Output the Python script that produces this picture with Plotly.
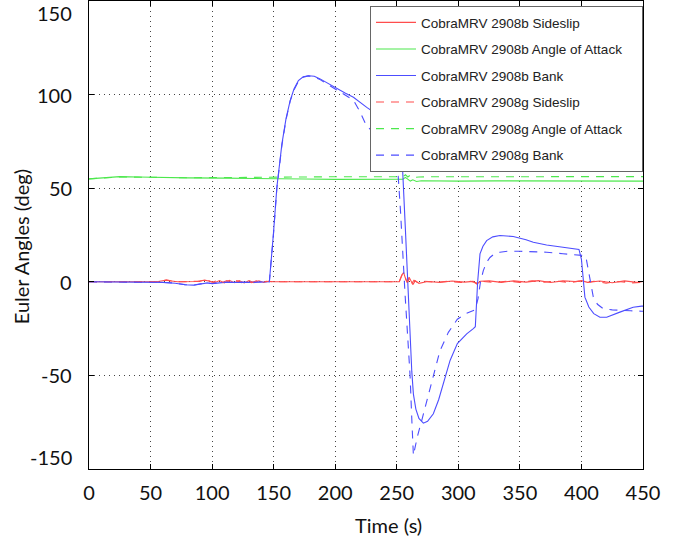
import plotly.graph_objects as go

# ---------------- data ----------------
b_side_t = [0, 55, 62, 66, 72, 88, 94, 98, 102, 106, 110, 114, 118, 122, 126, 130, 134, 138, 142, 146, 150,
            200, 252, 254, 255.5, 257, 258.5, 260, 261.5, 263, 265, 268, 275, 285, 295, 305, 312, 315, 318,
            325, 335, 345, 355, 365, 375, 385, 395, 400, 405, 415, 425, 435, 445, 450]
b_side_v = [0, 0, 0.8, 0.5, 0, 0.2, 0.9, 0.3, -0.5, 0.7, -0.6, 0.8, -0.5, 0.7, -0.6, 0.6, -0.5, 0.5, -0.4, 0.3, 0,
            0, 0, 3.5, 5, 2, -0.5, 2.5, 0.5, -1.5, 0.5, -0.8, 0.2, -0.3, 0.4, -0.2, 0.2, -1.2, 0.3,
            0.5, -0.3, 0.5, -0.2, 0.6, -0.4, 0.5, 0.2, 0.6, -0.3, 0.4, -0.5, 0.5, -0.3, 0.2]

g_side_t = [0, 55, 63, 68, 74, 90, 96, 100, 104, 108, 112, 116, 120, 124, 128, 132, 136, 140, 144, 148,
            200, 252, 254.5, 256, 257.5, 259, 260.5, 262, 264, 267, 272, 282, 292, 302, 310, 316, 320,
            330, 340, 350, 360, 370, 380, 390, 398, 403, 410, 420, 430, 440, 450]
g_side_v = [0, 0, 1.0, 0.3, 0, 0.3, 1.0, -0.2, 0.6, -0.5, 0.7, -0.4, 0.6, -0.5, 0.6, -0.4, 0.5, -0.3, 0.3, 0,
            0, 0, 4, 4.5, 1, 0, 2, -1, 0.8, -0.5, 0.3, -0.2, 0.3, -0.4, 0.3, -0.8, 0.2,
            -0.4, 0.4, -0.3, 0.5, -0.2, 0.4, -0.5, 0.3, -0.6, 0.3, -0.7, 0.2, -0.6, -0.3]

b_aoa_t = [0, 10, 25, 40, 60, 80, 110, 148, 175, 200, 230, 255, 257, 259, 261, 263, 266, 270, 280,
           300, 330, 360, 400, 430, 450]
b_aoa_v = [55.0, 55.6, 56.2, 56.0, 55.6, 55.5, 55.4, 55.3, 54.9, 54.7, 54.7, 54.8, 55.8, 55.0, 53.8,
           54.5, 53.6, 54.0, 53.9, 53.8, 53.9, 53.8, 53.8, 53.9, 53.8]

g_aoa_t = [0, 10, 25, 40, 60, 80, 110, 150, 200, 255, 257, 259, 261, 264, 268, 280, 320, 360, 400, 450]
g_aoa_v = [55.0, 55.5, 56.0, 55.9, 55.7, 55.6, 55.7, 56.0, 56.1, 56.1, 57.2, 56.0, 57.0, 55.8, 56.0,
           56.1, 56.2, 56.2, 56.1, 56.2]

b_bank_t = [0, 50, 60, 70, 78, 85, 92, 96, 100, 105, 110, 130, 146.5, 149.8, 152.6, 156.7, 160, 163.4,
            166.5, 170.1, 174, 178.2, 183, 187.7, 194, 201.3, 208, 214.8, 220, 225.6, 235, 245, 250,
            252, 253.5, 254.8, 257, 258, 259, 260.5, 262.2, 263.5, 265.5, 268, 271.6, 275, 279.7, 284,
            287.8, 293.3, 299.2, 306.8, 312.2, 313.8, 315.7, 317.6, 320, 323, 328, 333.8, 344.6, 355,
            360.9, 371.7, 385, 396, 398, 400, 402.8, 406, 410, 415, 420.5, 431.2, 442, 448.9, 450]
b_bank_v = [0, 0, -0.3, -0.8, -1.6, -1.8, -1.2, -0.6, -1.0, -0.7, -0.3, -0.3, 0, 25.6, 50.5, 73.7, 87,
            96.8, 103, 107.5, 109.5, 110.1, 109.8, 108.4, 106, 103, 100.8, 98.6, 96, 93.2, 89, 85, 82,
            76, 68, 59, 28, 13, 0, -20, -48, -60, -68, -73, -75.5, -74.5, -70.5, -63,
            -54.5, -42, -33, -27.8, -25, -24, 0, 14.9, 19, 22, 24, 24.7, 24.2, 22.5,
            21.1, 19.7, 18.5, 17.6, 17.3, 12, -8.2, -13.5, -17, -18.9, -18.9, -16.2, -13.6, -13, -13]

g_bank_t = [0, 50, 60, 70, 78, 85, 92, 96, 100, 105, 110, 130, 146.5, 149.8, 152.6, 156.7, 160, 163.4,
            166.5, 170.1, 174, 178.2, 183, 187.7, 194, 201.3, 208, 214.8, 220, 225.6, 235, 245, 250,
            253, 256.7, 258.5, 260.8, 262.3, 263.5, 265, 267, 270.3, 275, 279.7, 285, 291.9, 299.2, 306,
            313.6, 316, 318, 320.3, 323, 325.7, 329, 333.8, 340, 350, 360, 371.7, 385, 398.8, 402.8,
            404, 405.5, 407.5, 409.6, 413, 417.7, 425, 431.2, 440, 448.9, 450]
g_bank_v = [0, 0, -0.3, -0.7, -1.5, -1.7, -1.1, -0.5, -0.9, -0.6, -0.3, -0.3, 0, 25.0, 50, 73, 86.5,
            96.5, 102.5, 107, 109.3, 110, 109.5, 108, 105.5, 102.5, 100, 97, 91, 83, 78, 73, 68,
            38, -6.4, -25, -50, -75, -92.7, -88, -82, -74, -62, -49, -37, -27, -20, -17,
            -15, -9, 0, 6, 10.5, 13, 14.8, 15.8, 16.3, 16.3, 16, 15.8, 15, 14.4, 14,
            12, 6, -2, -8, -12, -14.4, -15, -15.3, -15.5, -15.7, -15.7]

x_ticks = [0, 50, 100, 150, 200, 250, 300, 350, 400, 450]
y_grid = [-100, -50, 0, 50, 100, 150]
y_label_pos = [-93.6, -50, 0, 50, 100, 143.6]
y_label_text = ["-150", "-50", "0", "50", "100", "150"]

RED = "#ff4d4d"
GREEN = "#4de84d"
BLUE = "#4d4dff"
DASH = "8px,7px"
PAD = "\u00a0" * 4  # right padding inside the legend box

series = [
    ("CobraMRV 2908b Sideslip", b_side_t, b_side_v, RED, "solid"),
    ("CobraMRV 2908b Angle of Attack" + PAD, b_aoa_t, b_aoa_v, GREEN, "solid"),
    ("CobraMRV 2908b Bank", b_bank_t, b_bank_v, BLUE, "solid"),
    ("CobraMRV 2908g Sideslip", g_side_t, g_side_v, RED, DASH),
    ("CobraMRV 2908g Angle of Attack" + PAD, g_aoa_t, g_aoa_v, GREEN, DASH),
    ("CobraMRV 2908g Bank", g_bank_t, g_bank_v, BLUE, DASH),
]

fig = go.Figure()
for i, (name, t, v, col, dash) in enumerate(series):
    fig.add_trace(go.Scatter(x=t, y=v, mode="lines", name=name, legendgroup=f"g{i}",
                             line=dict(color=col, width=1.1, dash=dash)))

FONT = dict(family="Lato, 'Open Sans', sans-serif", size=20, color="#111")

annotations = [
    dict(text=txt, x=-0.027, y=pos, xref="paper", yref="y", showarrow=False, font=FONT,
         xanchor="right", yanchor="middle")
    for pos, txt in zip(y_label_pos, y_label_text)
]
annotations += [
    dict(text="Euler Angles (deg)", x=-0.1227, y=0.474, xref="paper", yref="paper", textangle=-90,
         showarrow=False, font=FONT, xanchor="center", yanchor="middle"),
    dict(text="Time (s)", x=0.5415, y=-0.1197, xref="paper", yref="paper", showarrow=False,
         font=FONT, xanchor="center", yanchor="middle"),
]

fig.update_layout(
    width=673, height=540,
    margin=dict(l=89, r=30, t=1, b=71),
    plot_bgcolor="white", paper_bgcolor="white",
    xaxis=dict(range=[0, 450], tickvals=x_ticks, showgrid=True, gridcolor="#444", griddash="1px,4px",
               gridwidth=1, ticks="inside", ticklen=5, tickcolor="#000", showline=True, linecolor="#000",
               linewidth=1, mirror="ticks", zeroline=False, tickfont=FONT, ticklabelstandoff=6),
    yaxis=dict(range=[-100, 150], tickvals=y_grid, showgrid=True, gridcolor="#444", griddash="1px,4px",
               gridwidth=1, ticks="inside", ticklen=5, tickcolor="#000", showline=True, linecolor="#000",
               linewidth=1, mirror="ticks", zeroline=False, showticklabels=False),
    legend=dict(x=1, xanchor="right", y=0.989, yanchor="top", bgcolor="white", bordercolor="#666",
                borderwidth=1, font=dict(family="Liberation Sans, Arial, sans-serif", size=13.5, color="#222"),
                tracegroupgap=6, traceorder="grouped", itemwidth=40),
    annotations=annotations,
)

fig.write_html("out.html", config={"displayModeBar": False},
               post_script="document.body.style.margin='0';document.body.style.overflow='hidden';")
